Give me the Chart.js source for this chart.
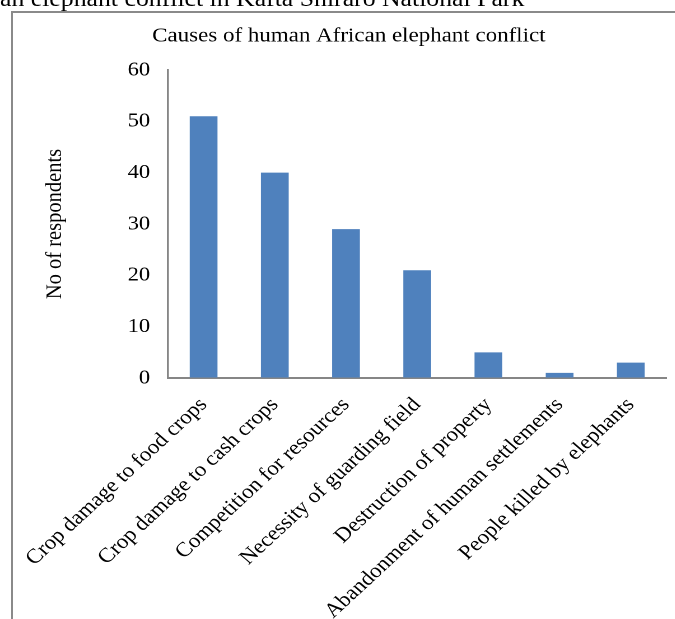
<!DOCTYPE html>
<html>
<head>
<meta charset="utf-8">
<script src="https://cdn.jsdelivr.net/npm/chart.js@4"></script>
<style>
  html, body { margin: 0; padding: 0; background: #fff; overflow: hidden; }
  #wrap { position: relative; width: 675px; height: 619px; overflow: hidden; }
  #frame {
    position: absolute; left: 11px; top: 11px; width: 700px; height: 700px;
    border-left: 2px solid #8a8a8a; border-top: 2px solid #8a8a8a;
  }
  /* the source figure is slightly stretched sideways */
  #stretch {
    position: absolute; left: 0; top: 0; width: 603px; height: 619px;
    transform: scaleX(1.12); transform-origin: 0 0;
  }
  #caption {
    position: absolute; left: 0; top: -14px; white-space: nowrap;
    font-family: 'Liberation Serif', 'Times New Roman', serif; font-size: 23px; color: #000;
  }
  #chart { position: absolute; left: 0; top: 0; }
</style>
</head>
<body>
<div id="wrap">
  <div id="frame"></div>
  <div id="stretch">
    <div id="caption">an elephant conflict in Kafta Shiraro National Park</div>
    <canvas id="chart" width="603" height="619"></canvas>
  </div>
</div>
<script>
const causes = [
    'Crop damage to food crops',
    'Crop damage to cash crops',
    'Competition for resources',
    'Necessity of guarding field',
    'Destruction of property',
    'Abandonment of human settlements',
    'People killed by elephants'
];
const respondents = [51, 40, 29, 21, 5, 1, 3];
const yTicks = [0, 10, 20, 30, 40, 50, 60];

const serif = "'Liberation Serif', 'Times New Roman', serif";
const axisGray = '#868686';

const ctx = document.getElementById('chart').getContext('2d');

new Chart(ctx, {
    type: 'bar',
    data: {
        labels: causes,
        datasets: [{
            label: 'No of respondents',
            data: respondents,
            backgroundColor: '#4F81BD',
            borderWidth: 0,
            categoryPercentage: 1,
            barPercentage: 0.39,
        }],
    },
    options: {
        responsive: false,
        animation: false,
        devicePixelRatio: 2,
        layout: {
            padding: { left: 28, right: 8, top: 0, bottom: 0 },
        },
        plugins: {
            legend: { display: false },
            tooltip: { enabled: false },
            title: {
                display: true,
                text: 'Causes of human African elephant conflict',
                color: '#000',
                font: { family: serif, size: 20.5, weight: 'normal' },
                padding: { top: 24, bottom: 21.4 },
            },
        },
        scales: {
            x: {
                grid: { color: 'rgba(0,0,0,0)', drawTicks: false },
                border: { color: axisGray, width: 2 },
                ticks: {
                    color: '#000',
                    font: { family: serif, size: 20.5 },
                    minRotation: 46,
                    maxRotation: 46,
                    autoSkip: false,
                    padding: 15,
                },
                afterFit: (scale) => {
                    scale.height = 241;
                    scale.paddingLeft = 0;
                    scale.paddingRight = 0;
                },
            },
            y: {
                min: 0,
                max: 60,
                grid: { color: 'rgba(0,0,0,0)', drawTicks: false },
                border: { color: axisGray, width: 1.8 },
                afterBuildTicks: (scale) => {
                    scale.ticks = yTicks.map(v => ({ value: v }));
                },
                ticks: {
                    color: '#000',
                    font: { family: serif, size: 20 },
                    padding: 16,
                },
                title: {
                    display: true,
                    text: 'No of respondents',
                    color: '#000',
                    font: { family: serif, size: 20.5 },
                    padding: { top: 9, bottom: 0 },
                },
                afterFit: (scale) => {
                    scale.width = 122;
                },
            },
        },
    },
});
</script>
</body>
</html>
